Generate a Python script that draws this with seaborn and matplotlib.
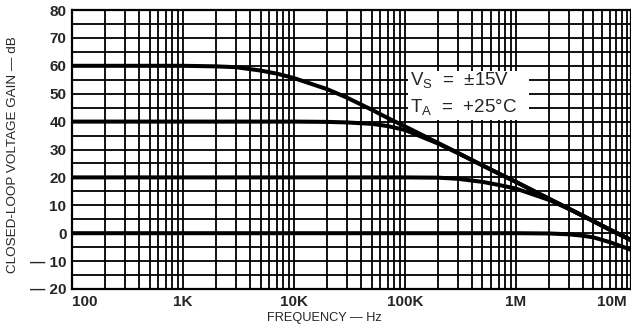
import numpy as np
import pandas as pd
import matplotlib
matplotlib.use("Agg")
import matplotlib.pyplot as plt
import seaborn as sns
from matplotlib.patches import Rectangle
from matplotlib.ticker import FixedLocator, NullFormatter

sns.set_style("white")
plt.rcParams["font.family"] = ["Liberation Sans", "DejaVu Sans"]

# Frequency points (Hz) shared by every curve
freq = [100, 1e3, 2e3, 3e3, 5e3, 7e3, 10e3, 20e3, 30e3, 50e3, 70e3,
        100e3, 200e3, 300e3, 500e3, 700e3, 1e6, 2e6, 3e6, 4e6, 5e6,
        7e6, 10e6, 10.9e6]

# Closed-loop gain (dB) for each configured gain
gain_60 = [60, 60, 59.8, 59.5, 58.3, 57.2, 55.6, 51.6, 48.6, 44.3, 41.3,
           38.3, 32.3, 28.8, 24.3, 21.4, 18.4, 12.3, 8.8, 6.3, 4.3,
           1.3, -1.7, -2.5]
gain_40 = [40, 40, 40, 40, 40, 40, 40, 39.9, 39.7, 39.2, 38.4,
           37.0, 32.1, 28.7, 24.3, 21.4, 18.4, 12.3, 8.8, 6.3, 4.3,
           1.3, -1.7, -2.5]
gain_20 = [20, 20, 20, 20, 20, 20, 20, 20, 20, 20, 20,
           20, 19.9, 19.5, 18.4, 17.3, 16.0, 11.9, 8.7, 6.2, 4.3,
           1.3, -1.7, -2.5]
gain_0 = [0, 0, 0, 0, 0, 0, 0, 0, 0, 0, 0,
          0, 0, 0, 0, 0, 0, -0.1, -0.4, -0.9, -1.5,
          -3.2, -5.4, -6.0]

x_ticks = [100, 1e3, 1e4, 1e5, 1e6, 1e7]
x_labels = ["100", "1K", "10K", "100K", "1M", "10M"]
y_ticks = [80, 70, 60, 50, 40, 30, 20, 10, 0, -10, -20]
y_labels = ["80", "70", "60", "50", "40", "30", "20", "10", "0", "\u2014 10", "\u2014 20"]

df = pd.concat([
    pd.DataFrame({"freq": freq, "gain": g, "curve": name})
    for name, g in [("60", gain_60), ("40", gain_40), ("20", gain_20), ("0", gain_0)]
])

fig = plt.figure(figsize=(6.31, 3.28), dpi=100)
ax = fig.add_axes([72 / 631, 39 / 328, 559 / 631, 279 / 328])

ax.set_xscale("log")
ax.set_xlim(100, 10.9e6)
ax.set_ylim(-20, 80)

# Log grid: every 1..9 per decade, horizontal every 5 dB
vgrid = [m * 10 ** d for d in range(2, 8) for m in range(1, 10) if m * 10 ** d <= 10.9e6]
for xv in vgrid:
    ax.axvline(xv, color="black", lw=1.3, zorder=1)
for yv in np.arange(-20, 81, 5):
    ax.axhline(yv, color="black", lw=1.3, zorder=1)

# Blank area behind the test-condition legend
ax.add_patch(Rectangle((1.07e5, 40.4), 1.3e6 - 1.07e5, 58.2 - 40.4,
                       facecolor="white", edgecolor="none", zorder=2))

sns.lineplot(data=df, x="freq", y="gain", units="curve", estimator=None,
             color="black", lw=2.9, sort=False, ax=ax, zorder=3)

ax.text(1.12e5, 54.6, "V$_\\mathregular{S}$  =  \u00b115V", fontsize=13.5,
        va="center", ha="left", zorder=4)
ax.text(1.12e5, 45.0, "T$_\\mathregular{A}$  =  +25\u00b0C", fontsize=13.5,
        va="center", ha="left", zorder=4)

ax.xaxis.set_major_locator(FixedLocator(x_ticks))
ax.set_xticklabels(x_labels)
ax.xaxis.set_minor_formatter(NullFormatter())
ax.set_yticks(y_ticks)
ax.set_yticklabels(y_labels)
ax.tick_params(axis="both", which="both", length=0, labelsize=11, pad=4)
for lab in ax.get_xticklabels() + ax.get_yticklabels():
    lab.set_fontweight("bold")
xlabs = ax.get_xticklabels()
xlabs[0].set_horizontalalignment("left")
xlabs[-1].set_horizontalalignment("right")

ax.set_xlabel("FREQUENCY \u2014 Hz", fontsize=9.2)
ax.xaxis.set_label_coords(0.451, -0.084)
ax.set_ylabel("CLOSED-LOOP VOLTAGE GAIN \u2014 dB", fontsize=9.7)
ax.yaxis.set_label_coords(-0.094, 0.48)

for sp in ax.spines.values():
    sp.set_color("black")
    sp.set_linewidth(1.6)

fig.savefig("out.png", dpi=100)
